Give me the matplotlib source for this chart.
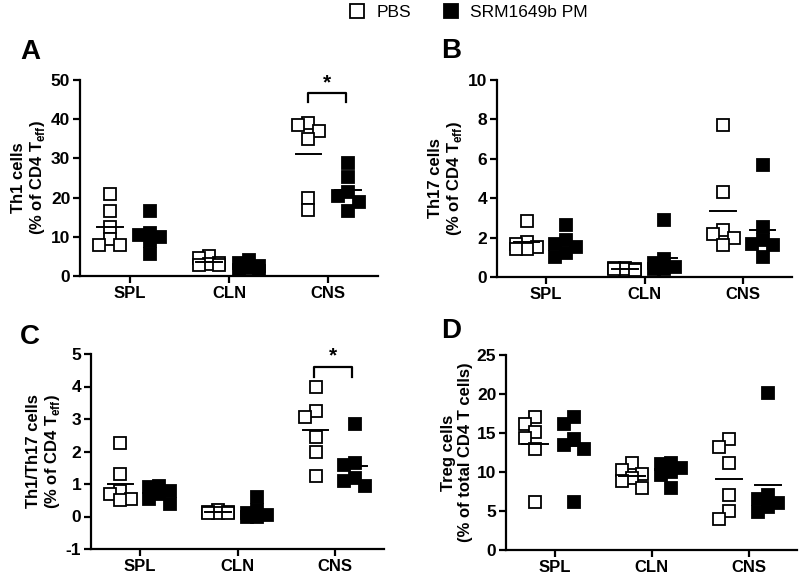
import matplotlib
matplotlib.use('Agg')
import matplotlib.pyplot as plt
from matplotlib.lines import Line2D
import numpy as np

plt.rcParams['font.family'] = ['Liberation Sans', 'DejaVu Sans']
plt.rcParams['mathtext.fontset'] = 'custom'
plt.rcParams['mathtext.rm'] = 'Liberation Sans'
plt.rcParams['mathtext.bf'] = 'Liberation Sans:bold'

# --- data ---
tissues = ["SPL", "CLN", "CNS"]
groups = ["PBS", "SRM1649b PM"]

th1_pbs = [[21.0, 16.5, 12.5, 9.5, 8.0, 8.0],
           [5.0, 4.6, 3.3, 3.0, 2.8, 2.8],
           [39.0, 38.5, 37.0, 35.0, 19.8, 16.8]]
th1_srm = [[16.7, 11.0, 10.5, 10.0, 9.0, 5.5],
           [4.0, 3.3, 2.5, 2.0, 1.5, 1.3],
           [28.7, 25.2, 21.5, 20.5, 19.0, 16.5]]

th17_pbs = [[2.85, 1.8, 1.7, 1.5, 1.4, 1.4],
            [0.45, 0.45, 0.4, 0.4, 0.4, 0.35],
            [7.7, 4.3, 2.37, 2.2, 2.0, 1.6]]
th17_srm = [[2.65, 1.9, 1.7, 1.5, 1.2, 1.0],
            [2.9, 0.9, 0.7, 0.5, 0.4, 0.4],
            [5.7, 2.55, 1.9, 1.7, 1.6, 1.0]]

ratio_pbs = [[2.25, 1.31, 0.77, 0.7, 0.55, 0.5],
             [0.2, 0.15, 0.15, 0.1, 0.1, 0.1],
             [4.0, 3.25, 3.05, 2.45, 2.0, 1.25]]
ratio_srm = [[0.95, 0.9, 0.8, 0.7, 0.55, 0.4],
             [0.6, 0.2, 0.1, 0.05, 0.0, 0.0],
             [2.85, 1.65, 1.6, 1.2, 1.1, 0.95]]

treg_pbs = [[17.1, 16.1, 15.1, 14.3, 13.0, 6.1],
            [11.2, 10.2, 9.8, 9.2, 8.8, 7.9],
            [14.2, 13.2, 11.1, 7.1, 5.0, 4.0]]
treg_srm = [[17.1, 16.1, 14.2, 13.5, 13.0, 6.1],
            [11.1, 11.0, 10.5, 10.0, 9.6, 7.9],
            [20.1, 7.0, 6.5, 6.0, 5.5, 4.9]]

MS = 9.3      # marker size (pt)
OFFSET = 0.2  # group offset from tissue tick


def swarm_x(ax, x0, ys, ms_px):
    """simple swarm: spread colliding points sideways, least overlap wins"""
    tr = ax.transData
    placed = []
    xs = []
    for y in ys:
        base = tr.transform((x0, y))
        best, best_score = base[0], None
        for k in [0, -1, 1, -2, 2]:
            px = base[0] + k * 0.4 * ms_px
            score = 0.0
            for qx, qy in placed:
                ox = max(0.0, 0.8 * ms_px - abs(px - qx))
                oy = max(0.0, 0.9 * ms_px - abs(base[1] - qy))
                score += ox * oy
            if best_score is None or score < best_score - 1e-9:
                best, best_score = px, score
            if score == 0:
                break
        placed.append((best, base[1]))
        xs.append(tr.inverted().transform((best, base[1]))[0])
    return xs


def draw_panel(ax, pbs, srm, ylim, yticks, ylabel, letter, lpos):
    ax.set_xlim(0.5, 3.5)
    ax.set_ylim(*ylim)
    ms_px = MS * ax.figure.dpi / 72
    for i in range(3):
        x = i + 1
        for vals, sgn, face in [(pbs[i], -1, 'white'), (srm[i], 1, 'black')]:
            xc = x + sgn * OFFSET
            xs = swarm_x(ax, xc, vals, ms_px)
            ax.plot(xs, vals, ls='none', marker='s', ms=MS, mfc=face,
                    mec='black', mew=1.3, zorder=3)
            m = np.mean(vals)
            ax.plot([xc - 0.13, xc + 0.13], [m, m], color='black', lw=1.4, zorder=4)
    ax.set_xticks([1, 2, 3])
    ax.set_xticklabels(tissues, fontweight='bold', fontsize=12)
    ax.set_yticks(yticks)
    ax.set_yticklabels([str(t) for t in yticks], fontweight='bold', fontsize=12.5)
    for s in ['top', 'right']:
        ax.spines[s].set_visible(False)
    for s in ['left', 'bottom']:
        ax.spines[s].set_linewidth(1.6)
    ax.tick_params(width=1.6, length=5, pad=2)
    ax.set_ylabel(ylabel, fontweight='bold', fontsize=12, linespacing=1.1, labelpad=3)
    ax.figure.text(lpos[0] / 800, 1 - lpos[1] / 576, letter, fontsize=20,
                   fontweight='bold', ha='center', va='center')


def bracket(ax, x1, x2, ytop, ybot, ystar):
    ax.plot([x1, x1, x2, x2], [ybot, ytop, ytop, ybot], color='black', lw=1.6,
            clip_on=False)
    ax.text((x1 + x2) / 2, ystar, '*', ha='center', va='center', fontsize=15,
            fontweight='bold')


fig = plt.figure(figsize=(8, 5.76), dpi=100)

axA = fig.add_axes([80 / 800, 1 - 276 / 576, 298 / 800, 196 / 576])
axB = fig.add_axes([497 / 800, 1 - 277 / 576, 295 / 800, 197 / 576])
axC = fig.add_axes([91 / 800, 1 - 549 / 576, 293 / 800, 195 / 576])
axD = fig.add_axes([506 / 800, 1 - 550 / 576, 291 / 800, 195 / 576])

draw_panel(axA, th1_pbs, th1_srm, (0, 50), [0, 10, 20, 30, 40, 50],
           "Th1 cells\n(% of CD4 T$_{\\mathbf{eff}}$)", "A", (30, 52))
draw_panel(axB, th17_pbs, th17_srm, (0, 10), [0, 2, 4, 6, 8, 10],
           "Th17 cells\n(% of CD4 T$_{\\mathbf{eff}}$)", "B", (451, 51))
draw_panel(axC, ratio_pbs, ratio_srm, (-1, 5), [-1, 0, 1, 2, 3, 4, 5],
           "Th1/Th17 cells\n(% of CD4 T$_{\\mathbf{eff}}$)", "C", (30, 337))
draw_panel(axD, treg_pbs, treg_srm, (0, 25), [0, 5, 10, 15, 20, 25],
           "Treg cells\n(% of total CD4 T cells)", "D", (451, 331))

bracket(axA, 2.8, 3.18, 46.6, 44.3, 49.3)
bracket(axC, 2.78, 3.17, 4.6, 4.3, 4.95)

handles = [Line2D([], [], ls='none', marker='s', ms=10, mfc='white', mec='black', mew=1.3),
           Line2D([], [], ls='none', marker='s', ms=10, mfc='black', mec='black', mew=1.3)]
fig.legend(handles, groups, loc='center', bbox_to_anchor=(0.585, 1 - 12 / 576), ncol=2,
           frameon=False, fontsize=12.5, handlelength=1.0, handletextpad=0.6,
           columnspacing=1.8, borderaxespad=0)

fig.savefig("out.png", dpi=100)
